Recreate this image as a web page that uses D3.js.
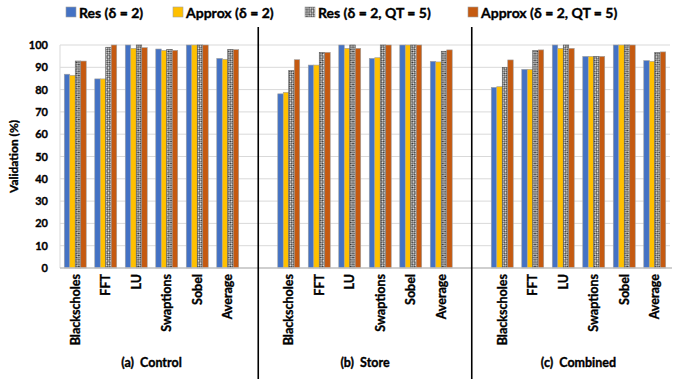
<!DOCTYPE html>
<html>
<head>
<meta charset="utf-8">
<script src="https://cdn.jsdelivr.net/npm/d3@7"></script>
<style>
  html, body { margin: 0; padding: 0; background: #fff; }
  svg { display: block; font-family: Lato, "Open Sans", sans-serif; font-weight: bold; }
  svg text { stroke: #000; stroke-width: 0.35px; fill: #000; }
</style>
</head>
<body>
<svg id="chart" width="683" height="379"></svg>
<script>
// Benchmarks shown in every panel
const categories = ["Blackscholes", "FFT", "LU", "Swaptions", "Sobel", "Average"];
const panels = ["Control", "Store", "Combined"];
const panelTitles = ["(a)  Control", "(b)  Store", "(c)  Combined"];
const seriesNames = ["Res (\u03B4 = 2)", "Approx (\u03B4 = 2)", "Res (\u03B4 = 2, QT = 5)", "Approx (\u03B4 = 2, QT = 5)"];
const yTicks = [0, 10, 20, 30, 40, 50, 60, 70, 80, 90, 100];

// Validation (%) per panel, one array per series, ordered like categories
const controlRes        = [86.9, 84.8, 100, 98.2, 100, 94.0];
const controlApprox     = [86.4, 84.8, 98.5, 97.6, 100, 93.6];
const controlResQT      = [92.8, 99.0, 100, 98.0, 100, 98.0];
const controlApproxQT   = [92.8, 100, 98.8, 97.6, 100, 97.9];

const storeRes          = [78.1, 91.0, 100, 94.0, 100, 92.7];
const storeApprox       = [78.8, 91.0, 98.5, 94.3, 100, 92.4];
const storeResQT        = [88.5, 96.7, 100, 100, 100, 97.2];
const storeApproxQT     = [93.4, 96.7, 98.5, 100, 100, 97.8];

const combinedRes       = [81.0, 89.1, 100, 94.9, 100, 93.0];
const combinedApprox    = [81.3, 89.1, 98.5, 94.9, 100, 92.7];
const combinedResQT     = [90.0, 97.5, 100, 94.9, 100, 96.6];
const combinedApproxQT  = [93.3, 97.8, 98.5, 94.9, 100, 96.9];

const panelSeries = [
  [controlRes, controlApprox, controlResQT, controlApproxQT],
  [storeRes, storeApprox, storeResQT, storeApproxQT],
  [combinedRes, combinedApprox, combinedResQT, combinedApproxQT]
];

const colors = ["#4472C4", "#FFC000", "url(#checker)", "#C55A11"];

const svg = d3.select("#chart");
const W = 683, H = 379;
const plotLeft = 60, plotRight = 670, plotTop = 45, plotBottom = 268;

// Checkered fill for the QT "Res" series
const defs = svg.append("defs");
const cell = 1.3;
const pat = defs.append("pattern")
  .attr("id", "checker")
  .attr("patternUnits", "userSpaceOnUse")
  .attr("width", cell * 2).attr("height", cell * 2)
  .attr("patternTransform", "rotate(45)");
pat.append("rect").attr("width", cell * 2).attr("height", cell * 2).attr("fill", "#2e2e2e");
pat.append("rect").attr("width", cell).attr("height", cell).attr("fill", "#f0f0f0");
pat.append("rect").attr("x", cell).attr("y", cell).attr("width", cell).attr("height", cell).attr("fill", "#f0f0f0");

// One continuous band axis: panels separated by an empty slot
const slots = [];
panels.forEach((p, pi) => {
  if (pi > 0) slots.push("gap" + pi);
  categories.forEach(c => slots.push(p + "|" + c));
});

const x = d3.scaleBand()
  .domain(slots)
  .range([plotLeft, plotRight])
  .paddingInner(0.28)
  .paddingOuter(0.14);

const xs = d3.scaleBand()
  .domain(d3.range(seriesNames.length))
  .range([0, x.bandwidth()])
  .padding(0);

const y = d3.scaleLinear()
  .domain([0, 100])
  .range([plotBottom, plotTop]);

// Gridlines
svg.append("g")
  .selectAll("line")
  .data(yTicks.filter(t => t > 0))
  .join("line")
  .attr("x1", plotLeft).attr("x2", plotRight)
  .attr("y1", d => y(d)).attr("y2", d => y(d))
  .attr("stroke", "#d9d9d9").attr("stroke-width", 1);

// Left axis line
svg.append("line")
  .attr("x1", plotLeft).attr("x2", plotLeft)
  .attr("y1", y(100)).attr("y2", y(0))
  .attr("stroke", "#d9d9d9").attr("stroke-width", 1);

// Y axis tick labels
const yAxis = d3.axisLeft(y).tickValues(yTicks).tickSize(0).tickPadding(12);
const yg = svg.append("g").attr("transform", `translate(${plotLeft},0)`).call(yAxis);
yg.select(".domain").remove();
yg.selectAll("text")
  .attr("font-family", "Lato, sans-serif")
  .attr("font-weight", "bold")
  .attr("font-size", 11)
  .attr("fill", "#000");

// Y axis title
svg.append("text")
  .attr("transform", `translate(18,${(y(0) + y(100)) / 2}) rotate(-90)`)
  .attr("text-anchor", "middle")
  .attr("font-size", 12)
  .text("Validation (%)");

// Bars
panels.forEach((p, pi) => {
  const g = svg.append("g");
  categories.forEach((c, ci) => {
    const gx = x(p + "|" + c);
    panelSeries[pi].forEach((vals, si) => {
      g.append("rect")
        .attr("x", gx + xs(si))
        .attr("y", y(vals[ci]))
        .attr("width", xs.bandwidth())
        .attr("height", y(0) - y(vals[ci]))
        .attr("fill", colors[si])
        .attr("stroke", si === 2 ? "#555" : "#a0a0a0")
        .attr("stroke-width", 0.6);
    });
  });
});

// Baseline
svg.append("line")
  .attr("x1", plotLeft).attr("x2", plotRight + 2)
  .attr("y1", y(0)).attr("y2", y(0))
  .attr("stroke", "#bfbfbf").attr("stroke-width", 1.3);

// Category labels (rotated)
panels.forEach(p => {
  categories.forEach(c => {
    const cx = x(p + "|" + c) + x.bandwidth() / 2;
    svg.append("text")
      .attr("transform", `translate(${cx + 4.5},274) rotate(-90)`)
      .attr("text-anchor", "end")
      .attr("font-size", 12.5)
      .text(c);
  });
});

// Panel separators
["gap1", "gap2"].forEach(gk => {
  const sx = x(gk) + x.bandwidth() / 2;
  svg.append("line")
    .attr("x1", sx).attr("x2", sx)
    .attr("y1", 27).attr("y2", H)
    .attr("stroke", "#000").attr("stroke-width", 1.6);
});

// Panel titles
panels.forEach((p, pi) => {
  const first = x(p + "|" + categories[0]);
  const last = x(p + "|" + categories[categories.length - 1]) + x.bandwidth();
  svg.append("text")
    .attr("x", (first + last) / 2)
    .attr("y", 367)
    .attr("text-anchor", "middle")
    .attr("font-size", 12.5)
    .style("white-space", "pre")
    .text(panelTitles[pi]);
});

// Legend
const legendX = [66, 173, 305, 468];
const lg = svg.append("g");
seriesNames.forEach((s, i) => {
  lg.append("rect")
    .attr("x", legendX[i]).attr("y", 7)
    .attr("width", 10).attr("height", 10)
    .attr("fill", colors[i])
    .attr("stroke", "#a0a0a0").attr("stroke-width", 0.6);
  lg.append("text")
    .attr("x", legendX[i] + 13).attr("y", 17.5)
    .attr("font-size", 14)
    .text(s);
});
</script>
</body>
</html>
